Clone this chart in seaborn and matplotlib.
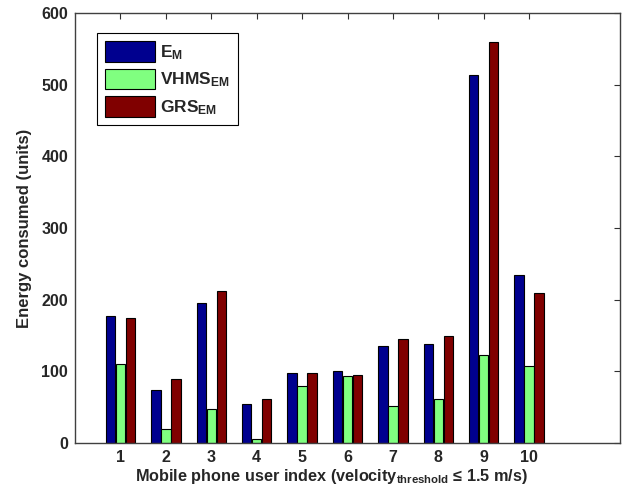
import numpy as np
import pandas as pd
import matplotlib
matplotlib.use("Agg")
import matplotlib.pyplot as plt
import seaborn as sns

users = list(range(1, 11))
e_m = [177, 74, 196, 54, 98, 100, 135, 138, 513, 235]
vhms_em = [110, 19, 47, 5, 80, 94, 52, 62, 123, 107]
grs_em = [175, 89, 212, 61, 98, 95, 145, 149, 559, 210]
series_labels = [r"E$_\mathbf{M}$", r"VHMS$_\mathbf{EM}$", r"GRS$_\mathbf{EM}$"]
y_ticks = [0, 100, 200, 300, 400, 500, 600]

sns.set_theme(style="white")
plt.rcParams["font.family"] = ["Liberation Sans", "DejaVu Sans"]
plt.rcParams["font.weight"] = "bold"
plt.rcParams["mathtext.fontset"] = "custom"
plt.rcParams["mathtext.rm"] = "Liberation Sans:bold"
plt.rcParams["mathtext.bf"] = "Liberation Sans:bold"
plt.rcParams["mathtext.it"] = "Liberation Sans:bold"

df = pd.DataFrame({
    "user": users * 3,
    "energy": e_m + vhms_em + grs_em,
    "series": [series_labels[0]] * 10 + [series_labels[1]] * 10 + [series_labels[2]] * 10,
})

palette = ["#00008f", "#80ff80", "#800000"]

fig = plt.figure(figsize=(6.33, 4.9), dpi=100)
ax = fig.add_axes([75 / 633, 47 / 490, 545 / 633, 430 / 490])

sns.barplot(data=df, x="user", y="energy", hue="series", hue_order=series_labels,
            palette=palette, native_scale=True, width=0.66, gap=0.06,
            edgecolor="black", linewidth=0.8, saturation=1, ax=ax, errorbar=None)

ax.set_xlim(0, 12)
ax.set_ylim(0, 600)
ax.set_xticks(users)
ax.set_xticklabels([str(u) for u in users])
ax.set_yticks(y_ticks)
ax.set_yticklabels([str(t) for t in y_ticks])
ax.tick_params(axis="both", which="both", direction="in", length=4, width=0.8,
               top=True, right=True, labelsize=11.5, color="#303030", pad=5)
for lab in ax.get_xticklabels() + ax.get_yticklabels():
    lab.set_fontweight("bold")
for sp in ax.spines.values():
    sp.set_visible(True)
    sp.set_color("#404040")
    sp.set_linewidth(1.0)

ax.set_xlabel(r"Mobile phone user index (velocity$_{\mathbf{threshold}}$ ≤ 1.5 m/s)",
              fontsize=11.7, fontweight="bold")
ax.xaxis.set_label_coords(0.47, -0.055, transform=ax.transAxes)
ax.xaxis.label.set_verticalalignment("top")
ax.set_ylabel("Energy consumed (units)", fontsize=12, fontweight="bold", labelpad=7)

leg = ax.legend(loc="upper left", bbox_to_anchor=(0.04, 0.953), borderaxespad=0,
                fontsize=12.5, handlelength=2.9, handleheight=1.45, frameon=True,
                fancybox=False, framealpha=1, edgecolor="black", borderpad=0.45,
                labelspacing=0.4, handletextpad=0.3, title=None)
leg.get_frame().set_linewidth(0.8)
for t in leg.get_texts():
    t.set_fontweight("bold")

fig.savefig("out.png", dpi=100, facecolor="white")
